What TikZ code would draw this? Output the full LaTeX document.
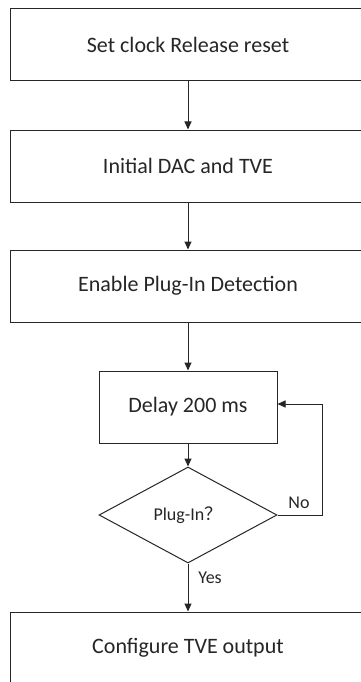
\documentclass[tikz,border=0pt]{standalone}
\usepackage{fontspec}
\setmainfont{Carlito}
\newfontfamily\cjkfont{Noto Sans CJK SC}
\usetikzlibrary{shapes.geometric,arrows.meta}
\begin{document}
\begin{tikzpicture}[x=1pt,y=1pt,
  line width=1pt,
  box/.style={draw=black!85, rectangle, inner sep=0pt, minimum width=356pt, minimum height=72pt, font=\fontsize{22}{26}\selectfont, text=black!85},
  smallbox/.style={draw=black!85, rectangle, inner sep=0pt, minimum width=178pt, minimum height=72pt, font=\fontsize{22}{26}\selectfont, text=black!85},
  decision/.style={draw=black!85, diamond, inner sep=0pt, minimum width=178pt, minimum height=96pt, font=\fontsize{18}{22}\selectfont, text=black!85},
  lbl/.style={font=\fontsize{18}{22}\selectfont, text=black!85, inner sep=0pt},
  flow/.style={draw=black!85, -{Triangle[length=8pt,width=7pt]}}]
\clip (0,0) rectangle (361,-682);
\fill[white] (0,0) rectangle (361,-682);
\node[box] (b1) at (188,-45) {Set clock Release reset};
\node[box] (b2) at (188,-166) {Initial DAC and TVE};
\node[box] (b3) at (188,-286) {Enable Plug-In Detection};
\node[smallbox] (b4) at (188,-407) {Delay 200 ms};
\node[decision] (d) at (188,-515) {Plug-In{\cjkfont ？}};
\node[box] (b5) at (188,-648) {Configure TVE output};
\coordinate (c1) at (322,-515);
\coordinate (c2) at (322,-404);
\coordinate (c3) at (b4.east |- c2);
\draw[flow] (b1) -- (b2);
\draw[flow] (b2) -- (b3);
\draw[flow] (b3) -- (b4);
\draw[flow] (b4) -- (d);
\draw[flow] (d) -- (b5);
\draw[flow] (d.east) -- (c1) -- (c2) -- (c3);
\node[lbl] (no) at (299,-503) {No};
\node[lbl] (yes) at (210,-578) {Yes};
\end{tikzpicture}
\end{document}
